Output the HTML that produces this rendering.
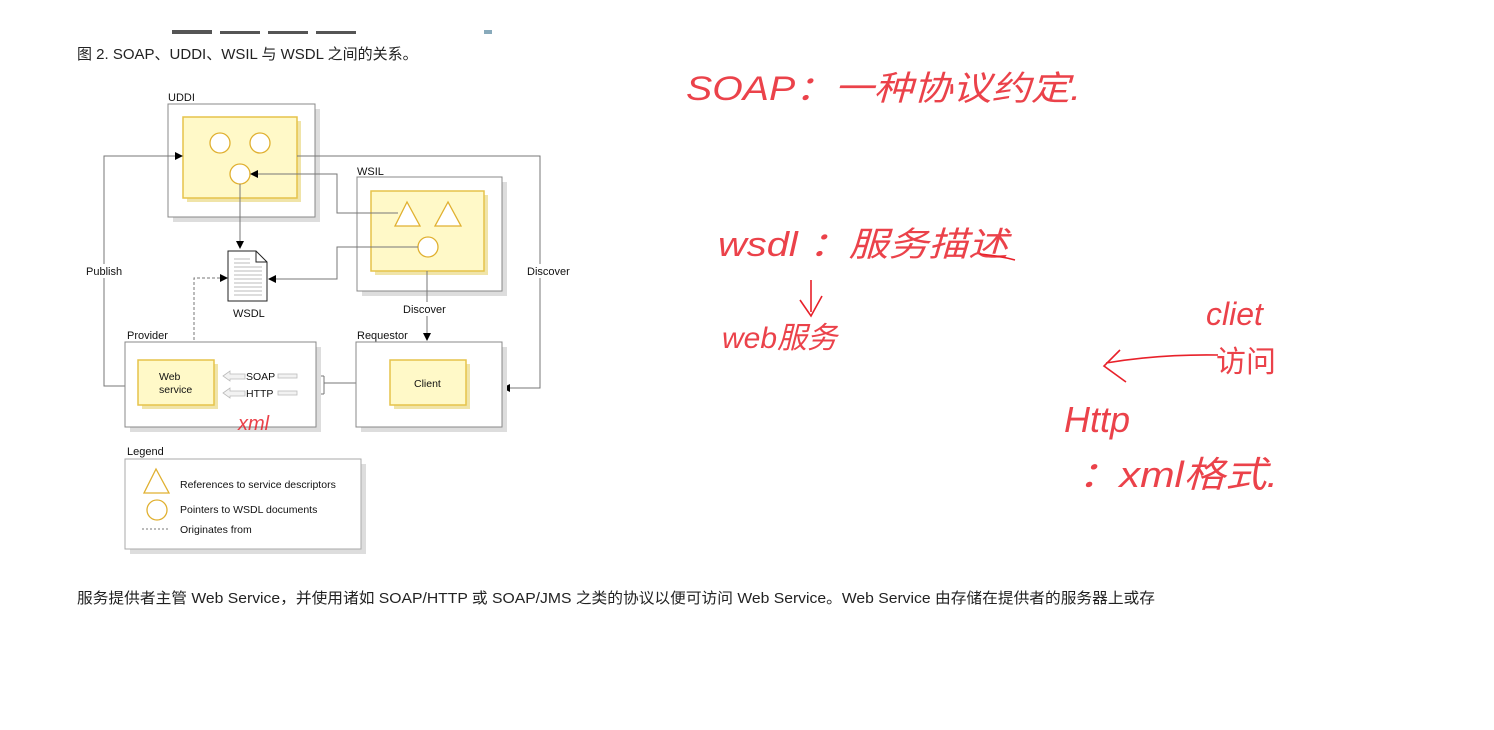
<!DOCTYPE html>
<html><head><meta charset="utf-8"><style>
html,body{margin:0;padding:0;background:#fff;}
svg{display:block;}
text{font-family:"Liberation Sans","Noto Sans CJK SC",sans-serif;}
</style></head><body>
<svg width="1494" height="730" viewBox="0 0 1494 730" xmlns="http://www.w3.org/2000/svg">
<g fill="#555"><rect x="172" y="30" width="40" height="4"/><rect x="220" y="31" width="40" height="3"/><rect x="268" y="31" width="40" height="3"/><rect x="316" y="31" width="40" height="3"/><rect x="484" y="30" width="8" height="4" fill="#8ab"/></g>
<text x="77" y="59" font-size="15" fill="#222">图 2. SOAP、UDDI、WSIL 与 WSDL 之间的关系。</text>

<!-- UDDI -->
<text x="168" y="101" font-size="11" fill="#111">UDDI</text>
<rect x="173" y="109" width="147" height="113" fill="#ddd"/>
<rect x="168" y="104" width="147" height="113" fill="#fff" stroke="#888"/>
<rect x="187" y="121" width="114" height="81" fill="#f0e4a8"/>
<rect x="183" y="117" width="114" height="81" fill="#fff9c8" stroke="#e6c34a" stroke-width="1.5"/>
<circle cx="220" cy="143" r="10" fill="#fff" stroke="#e0b030" stroke-width="1.3"/>
<circle cx="260" cy="143" r="10" fill="#fff" stroke="#e0b030" stroke-width="1.3"/>
<circle cx="240" cy="174" r="10" fill="#fff" stroke="#e0b030" stroke-width="1.3"/>

<!-- WSIL -->
<text x="357" y="175" font-size="11" fill="#111">WSIL</text>
<rect x="362" y="182" width="145" height="114" fill="#ddd"/>
<rect x="357" y="177" width="145" height="114" fill="#fff" stroke="#888"/>
<rect x="375" y="195" width="113" height="80" fill="#f0e4a8"/>
<rect x="371" y="191" width="113" height="80" fill="#fff9c8" stroke="#e6c34a" stroke-width="1.5"/>
<polygon points="407,202 395,226 420,226" fill="#fff" stroke="#e0b030" stroke-width="1.3"/>
<polygon points="448,202 435,226 461,226" fill="#fff" stroke="#e0b030" stroke-width="1.3"/>
<circle cx="428" cy="247" r="10" fill="#fff" stroke="#e0b030" stroke-width="1.3"/>

<!-- connectors -->
<g fill="none" stroke="#777" stroke-width="1">
<path d="M125,386 H104 V156 H176"/>
<path d="M297,156 H540 V388 H509"/>
<path d="M398,213 H337 V174 H257"/>
<path d="M418,247 H337 V279 H275"/>
<path d="M240,184 V242"/>
<path d="M427,271 V334"/>
<path d="M194,360 V278 H221" stroke-dasharray="3,2"/>
<path d="M390,383 H324"/>
<path d="M324,376 V394"/>
<path d="M324,376 H309"/>
<path d="M324,394 H309"/>
</g>
<g fill="#000">
<polygon points="183,156 175,152 175,160"/>
<polygon points="502,388 510,384 510,392"/>
<polygon points="250,174 258,170 258,178"/>
<polygon points="268,279 276,275 276,283"/>
<polygon points="240,249 236,241 244,241"/>
<polygon points="427,341 423,333 431,333"/>
<polygon points="228,278 220,274 220,282"/>
<polygon points="302,376 310,372 310,380"/>
<polygon points="302,394 310,390 310,398"/>
</g>
<rect x="86" y="264" width="44" height="14" fill="#fff"/>
<text x="86" y="275" font-size="11" fill="#111">Publish</text>
<rect x="526" y="264" width="52" height="14" fill="#fff"/>
<text x="527" y="275" font-size="11" fill="#111">Discover</text>
<rect x="402" y="302" width="52" height="14" fill="#fff"/>
<text x="403" y="313" font-size="11" fill="#111">Discover</text>

<!-- WSDL doc -->
<path d="M228,251 H256 L267,262 V301 H228 Z" fill="#fff" stroke="#222"/>
<path d="M256,251 V262 H267" fill="none" stroke="#222"/>
<g stroke="#bbb" stroke-width="1">
<line x1="234" y1="259" x2="250" y2="259"/><line x1="234" y1="263" x2="250" y2="263"/>
<line x1="234" y1="267" x2="262" y2="267"/><line x1="234" y1="271" x2="262" y2="271"/>
<line x1="234" y1="275" x2="262" y2="275"/><line x1="234" y1="279" x2="262" y2="279"/>
<line x1="234" y1="283" x2="262" y2="283"/><line x1="234" y1="287" x2="262" y2="287"/>
<line x1="234" y1="291" x2="262" y2="291"/><line x1="234" y1="295" x2="262" y2="295"/>
</g>
<text x="233" y="317" font-size="11" fill="#111">WSDL</text>

<!-- Provider -->
<text x="127" y="339" font-size="11" fill="#111">Provider</text>
<rect x="130" y="347" width="191" height="85" fill="#ddd"/>
<rect x="125" y="342" width="191" height="85" fill="#fff" stroke="#888"/>
<rect x="142" y="364" width="76" height="45" fill="#f0e4a8"/>
<rect x="138" y="360" width="76" height="45" fill="#fff9c8" stroke="#e6c34a" stroke-width="1.5"/>
<text x="159" y="380" font-size="10.5" fill="#111">Web</text>
<text x="159" y="393" font-size="10.5" fill="#111">service</text>
<g fill="#f2f2f2" stroke="#bbb" stroke-width="0.8">
<polygon points="223,376 230,371 230,374 245,374 245,379 230,379 230,381"/>
<polygon points="223,393 230,388 230,391 245,391 245,396 230,396 230,398"/>
<rect x="278" y="374" width="19" height="4"/>
<rect x="278" y="391" width="19" height="4"/>
</g>
<text x="246" y="380" font-size="10.5" fill="#111">SOAP</text>
<text x="246" y="397" font-size="10.5" fill="#111">HTTP</text>

<!-- Requestor -->
<text x="357" y="339" font-size="11" fill="#111">Requestor</text>
<rect x="361" y="347" width="146" height="85" fill="#ddd"/>
<rect x="356" y="342" width="146" height="85" fill="#fff" stroke="#888"/>
<rect x="394" y="364" width="76" height="45" fill="#f0e4a8"/>
<rect x="390" y="360" width="76" height="45" fill="#fff9c8" stroke="#e6c34a" stroke-width="1.5"/>
<text x="414" y="387" font-size="10.5" fill="#111">Client</text>

<!-- Legend -->
<text x="127" y="455" font-size="11" fill="#111">Legend</text>
<rect x="130" y="464" width="236" height="90" fill="#ddd"/>
<rect x="125" y="459" width="236" height="90" fill="#fff" stroke="#aaa"/>
<polygon points="156,469 144,493 169,493" fill="#fff" stroke="#e0b030" stroke-width="1.3"/>
<circle cx="157" cy="510" r="10" fill="#fff" stroke="#e0b030" stroke-width="1.3"/>
<line x1="142" y1="529" x2="168" y2="529" stroke="#777" stroke-dasharray="2,2"/>
<text x="180" y="488" font-size="10.5" fill="#111">References to service descriptors</text>
<text x="180" y="513" font-size="10.5" fill="#111">Pointers to WSDL documents</text>
<text x="180" y="533" font-size="10.5" fill="#111">Originates from</text>

<text x="77" y="603" font-size="15" fill="#222" textLength="1078" lengthAdjust="spacingAndGlyphs">服务提供者主管 Web Service，并使用诸如 SOAP/HTTP 或 SOAP/JMS 之类的协议以便可访问 Web Service。Web Service 由存储在提供者的服务器上或存</text>

<!-- handwritten annotations -->
<g fill="#e8212a" fill-opacity="0.85" style="font-family:'Liberation Sans','Noto Sans CJK SC',sans-serif">
<text x="238" y="430" font-size="20" font-style="italic">xml</text>
<text x="686" y="100" font-size="34" font-style="italic" textLength="395" lengthAdjust="spacingAndGlyphs">SOAP：一种协议约定.</text>
<text x="718" y="256" font-size="34" font-style="italic" textLength="290" lengthAdjust="spacingAndGlyphs">wsdl ：服务描述</text>
<text x="722" y="348" font-size="30" font-style="italic">web服务</text>
<text x="1206" y="325" font-size="32" font-style="italic">cliet</text>
<text x="1216" y="372" font-size="30">访问</text>
<text x="1064" y="432" font-size="36" font-style="italic">Http</text>
<text x="1078" y="487" font-size="36" font-style="italic" textLength="200" lengthAdjust="spacingAndGlyphs">：xml格式.</text>
</g>
<g fill="none" stroke="#e8212a" stroke-width="1.6">
<path d="M811,280 V312 M800,300 L811,316 L822,296"/>
<path d="M1218,355 Q1160,354 1106,363 M1120,350 L1104,366 L1126,382"/>
<path d="M980,254 Q1000,256 1015,260"/>
</g>
</svg>
</body></html>
